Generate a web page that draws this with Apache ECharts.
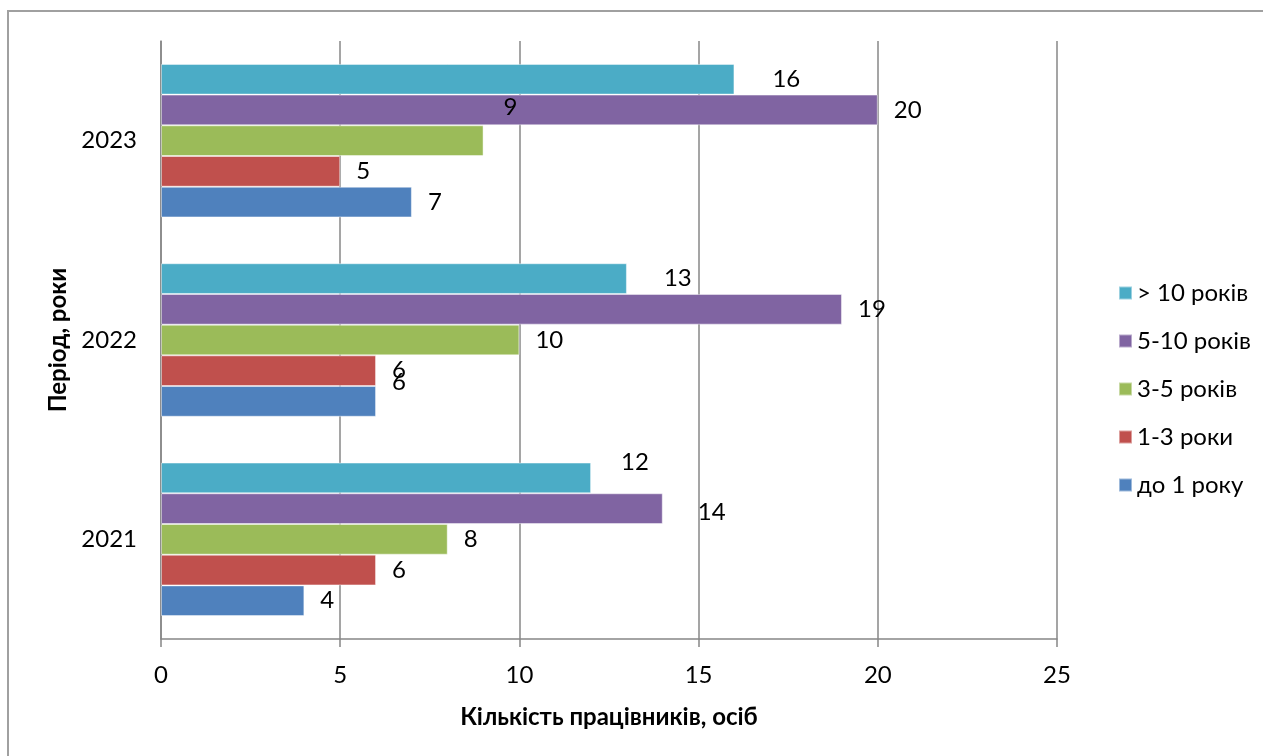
<!DOCTYPE html>
<html>
<head>
<meta charset="utf-8">
<title>Стаж працівників за період</title>
<script src="https://cdn.jsdelivr.net/npm/echarts@6/dist/echarts.min.js"></script>
<style>
  html, body { margin: 0; padding: 0; background: #ffffff; }
  #chart { width: 1263px; height: 756px; }
</style>
</head>
<body>
<div id="chart"></div>
<script>
// Years on the category axis (bottom to top)
const years = ['2021', '2022', '2023'];

// Headcount by length of service, one array per group, in year order
const upTo1Year   = [4, 6, 7];
const years1to3   = [6, 6, 5];
const years3to5   = [8, 10, 9];
const years5to10  = [14, 19, 20];
const over10Years = [12, 13, 16];

// Series names, longest service first (top bar in each year, top legend entry)
const seriesNames = ['> 10 років', '5-10 років', '3-5 років', '1-3 роки', 'до 1 року'];

// Value axis ticks
const xTicks = [0, 5, 10, 15, 20, 25];

const values = [over10Years, years5to10, years3to5, years1to3, upTo1Year];
const colors = ['#4BACC6', '#8064A2', '#9BBB59', '#C0504D', '#4F81BD'];

// Hand-placed data labels: [dx, dy] nudges keyed by "series name|year"
const labelNudge = {
  '> 10 років|2023': [22, 0],
  '3-5 років|2023': [4, -33],
  '> 10 років|2022': [21, 0],
  'до 1 року|2022': [0, -19],
  '> 10 років|2021': [14, -16],
  '5-10 років|2021': [19, 4]
};

const FONT = 'Lato, "Open Sans", "Noto Sans", sans-serif';
const FS = 24;

const series = values.map((vals, si) => ({
  name: seriesNames[si],
  type: 'bar',
  barGap: '0%',
  barCategoryGap: '23%',
  itemStyle: {
    color: colors[si],
    borderColor: 'rgba(255,255,255,0.45)',
    borderWidth: 1
  },
  label: {
    show: true,
    position: 'right',
    distance: 16,
    color: '#000',
    fontFamily: FONT,
    fontSize: FS
  },
  data: vals.map((v, yi) => {
    const n = labelNudge[seriesNames[si] + '|' + years[yi]];
    return n ? { value: v, label: { offset: n } } : v;
  })
}));

const chart = echarts.init(document.getElementById('chart'), null, { renderer: 'canvas' });

chart.setOption({
  backgroundColor: '#ffffff',
  animation: false,
  textStyle: { fontFamily: FONT },
  graphic: [{
    type: 'rect',
    shape: { x: 8, y: 11, width: 1400, height: 900 },
    style: { fill: 'none', stroke: '#a0a0a0', lineWidth: 2 },
    silent: true
  }],
  grid: { left: 161, right: 206, top: 41, bottom: 117, containLabel: false },
  legend: {
    orient: 'vertical',
    left: 1113,
    top: 276,
    itemWidth: 13,
    itemHeight: 13,
    itemGap: 24,
    icon: 'rect',
    data: seriesNames,
    textStyle: { fontFamily: FONT, fontSize: FS, color: '#000' }
  },
  xAxis: {
    type: 'value',
    min: xTicks[0],
    max: xTicks[xTicks.length - 1],
    interval: xTicks[1] - xTicks[0],
    name: 'Кількість працівників, осіб',
    nameLocation: 'middle',
    nameGap: 66,
    nameTextStyle: { fontFamily: FONT, fontSize: FS, fontWeight: 'bold', color: '#000' },
    axisLine: { show: true, lineStyle: { color: '#878787', width: 1.5 } },
    axisTick: { show: true, length: 8, lineStyle: { color: '#878787', width: 1.5 } },
    axisLabel: { fontFamily: FONT, fontSize: FS, color: '#000', margin: 24 },
    splitLine: { show: true, lineStyle: { color: '#878787', width: 1.5 } }
  },
  yAxis: {
    type: 'category',
    data: years,
    name: 'Період, роки',
    nameLocation: 'middle',
    nameGap: 90,
    nameTextStyle: { fontFamily: FONT, fontSize: FS, fontWeight: 'bold', color: '#000' },
    axisLine: { show: true, lineStyle: { color: '#878787', width: 1.5 } },
    axisTick: { show: false },
    axisLabel: { fontFamily: FONT, fontSize: FS, color: '#000', margin: 24 }
  },
  series: series
});
</script>
</body>
</html>
